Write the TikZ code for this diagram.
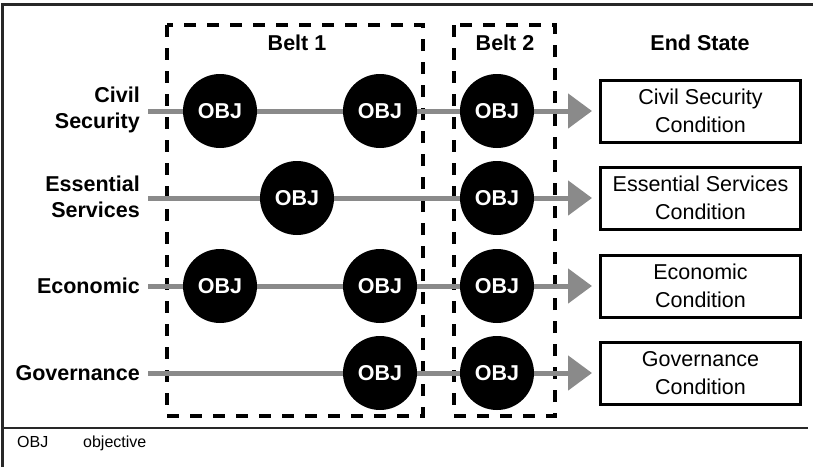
\documentclass[tikz,border=0pt]{standalone}
\usepackage{fontspec}
\setmainfont{Liberation Sans}
\usetikzlibrary{arrows.meta}
\definecolor{trackgray}{RGB}{138,138,138}
\definecolor{framegray}{RGB}{40,40,40}
\begin{document}
\begin{tikzpicture}[x=1pt,y=-1pt,
  obj/.style={circle,fill=black,minimum size=74pt,inner sep=0pt,text=white,font=\fontsize{21.5}{24}\selectfont\bfseries},
  rowlabel/.style={anchor=east,align=right,font=\fontsize{21.5}{26}\selectfont\bfseries,inner sep=0pt},
  endbox/.style={draw=black,line width=3pt,minimum width=200pt,minimum height=62pt,align=center,font=\fontsize{21.5}{27.5}\selectfont,inner sep=0pt},
  belt/.style={draw=black,line width=4.5pt,dash pattern=on 12pt off 11pt},
  track/.style={draw=trackgray,line width=5pt,-{Triangle[length=24pt,width=34pt]},shorten >=7pt},
  head/.style={font=\fontsize{21.5}{24}\selectfont\bfseries,inner sep=0pt},
  legend/.style={font=\fontsize{16}{18}\selectfont,anchor=base west,inner sep=0pt}
]
\useasboundingbox (0,0) rectangle (816,467);
% frame
\draw[line width=3pt,framegray] (2,467) -- (2,4) -- (813,4);
\draw[line width=1.5pt,framegray] (2,428) -- (808,428);
% belts
\draw[belt] (167,25) rectangle (423,416);
\draw[belt] (454,25) rectangle (555,416);
% headings
\node[head] (hb1) at (297,43) {Belt 1};
\node[head] (hb2) at (505,43) {Belt 2};
\node[head] (hes) at (700,43) {End State};
% row labels
\node[rowlabel] (l1) at (140,110) {Civil\\Security};
\node[rowlabel] (l2) at (140,197) {Essential\\Services};
\node[rowlabel] (l3) at (140,286) {Economic};
\node[rowlabel] (l4) at (140,373) {Governance};
% start points
\coordinate (s1) at (148,111);
\coordinate (s2) at (148,198);
\coordinate (s3) at (148,286);
\coordinate (s4) at (148,373);
% end state boxes
\node[endbox] (e1) at (700.5,111) {Civil Security\\Condition};
\node[endbox] (e2) at (700.5,198) {Essential Services\\Condition};
\node[endbox] (e3) at (700.5,286) {Economic\\Condition};
\node[endbox] (e4) at (700.5,373) {Governance\\Condition};
% tracks
\draw[track] (s1) -- (e1.west);
\draw[track] (s2) -- (e2.west);
\draw[track] (s3) -- (e3.west);
\draw[track] (s4) -- (e4.west);
% objectives
\node[obj] (o11) at (220,111) {OBJ};
\node[obj] (o12) at (380,111) {OBJ};
\node[obj] (o13) at (497,111) {OBJ};
\node[obj] (o21) at (297,198) {OBJ};
\node[obj] (o23) at (497,198) {OBJ};
\node[obj] (o31) at (220,286) {OBJ};
\node[obj] (o32) at (380,286) {OBJ};
\node[obj] (o33) at (497,286) {OBJ};
\node[obj] (o42) at (380,373) {OBJ};
\node[obj] (o43) at (497,373) {OBJ};
% legend
\node[legend] (lg1) at (17,447.5) {OBJ};
\node[legend] (lg2) at (83,447.5) {objective};
\end{tikzpicture}
\end{document}
